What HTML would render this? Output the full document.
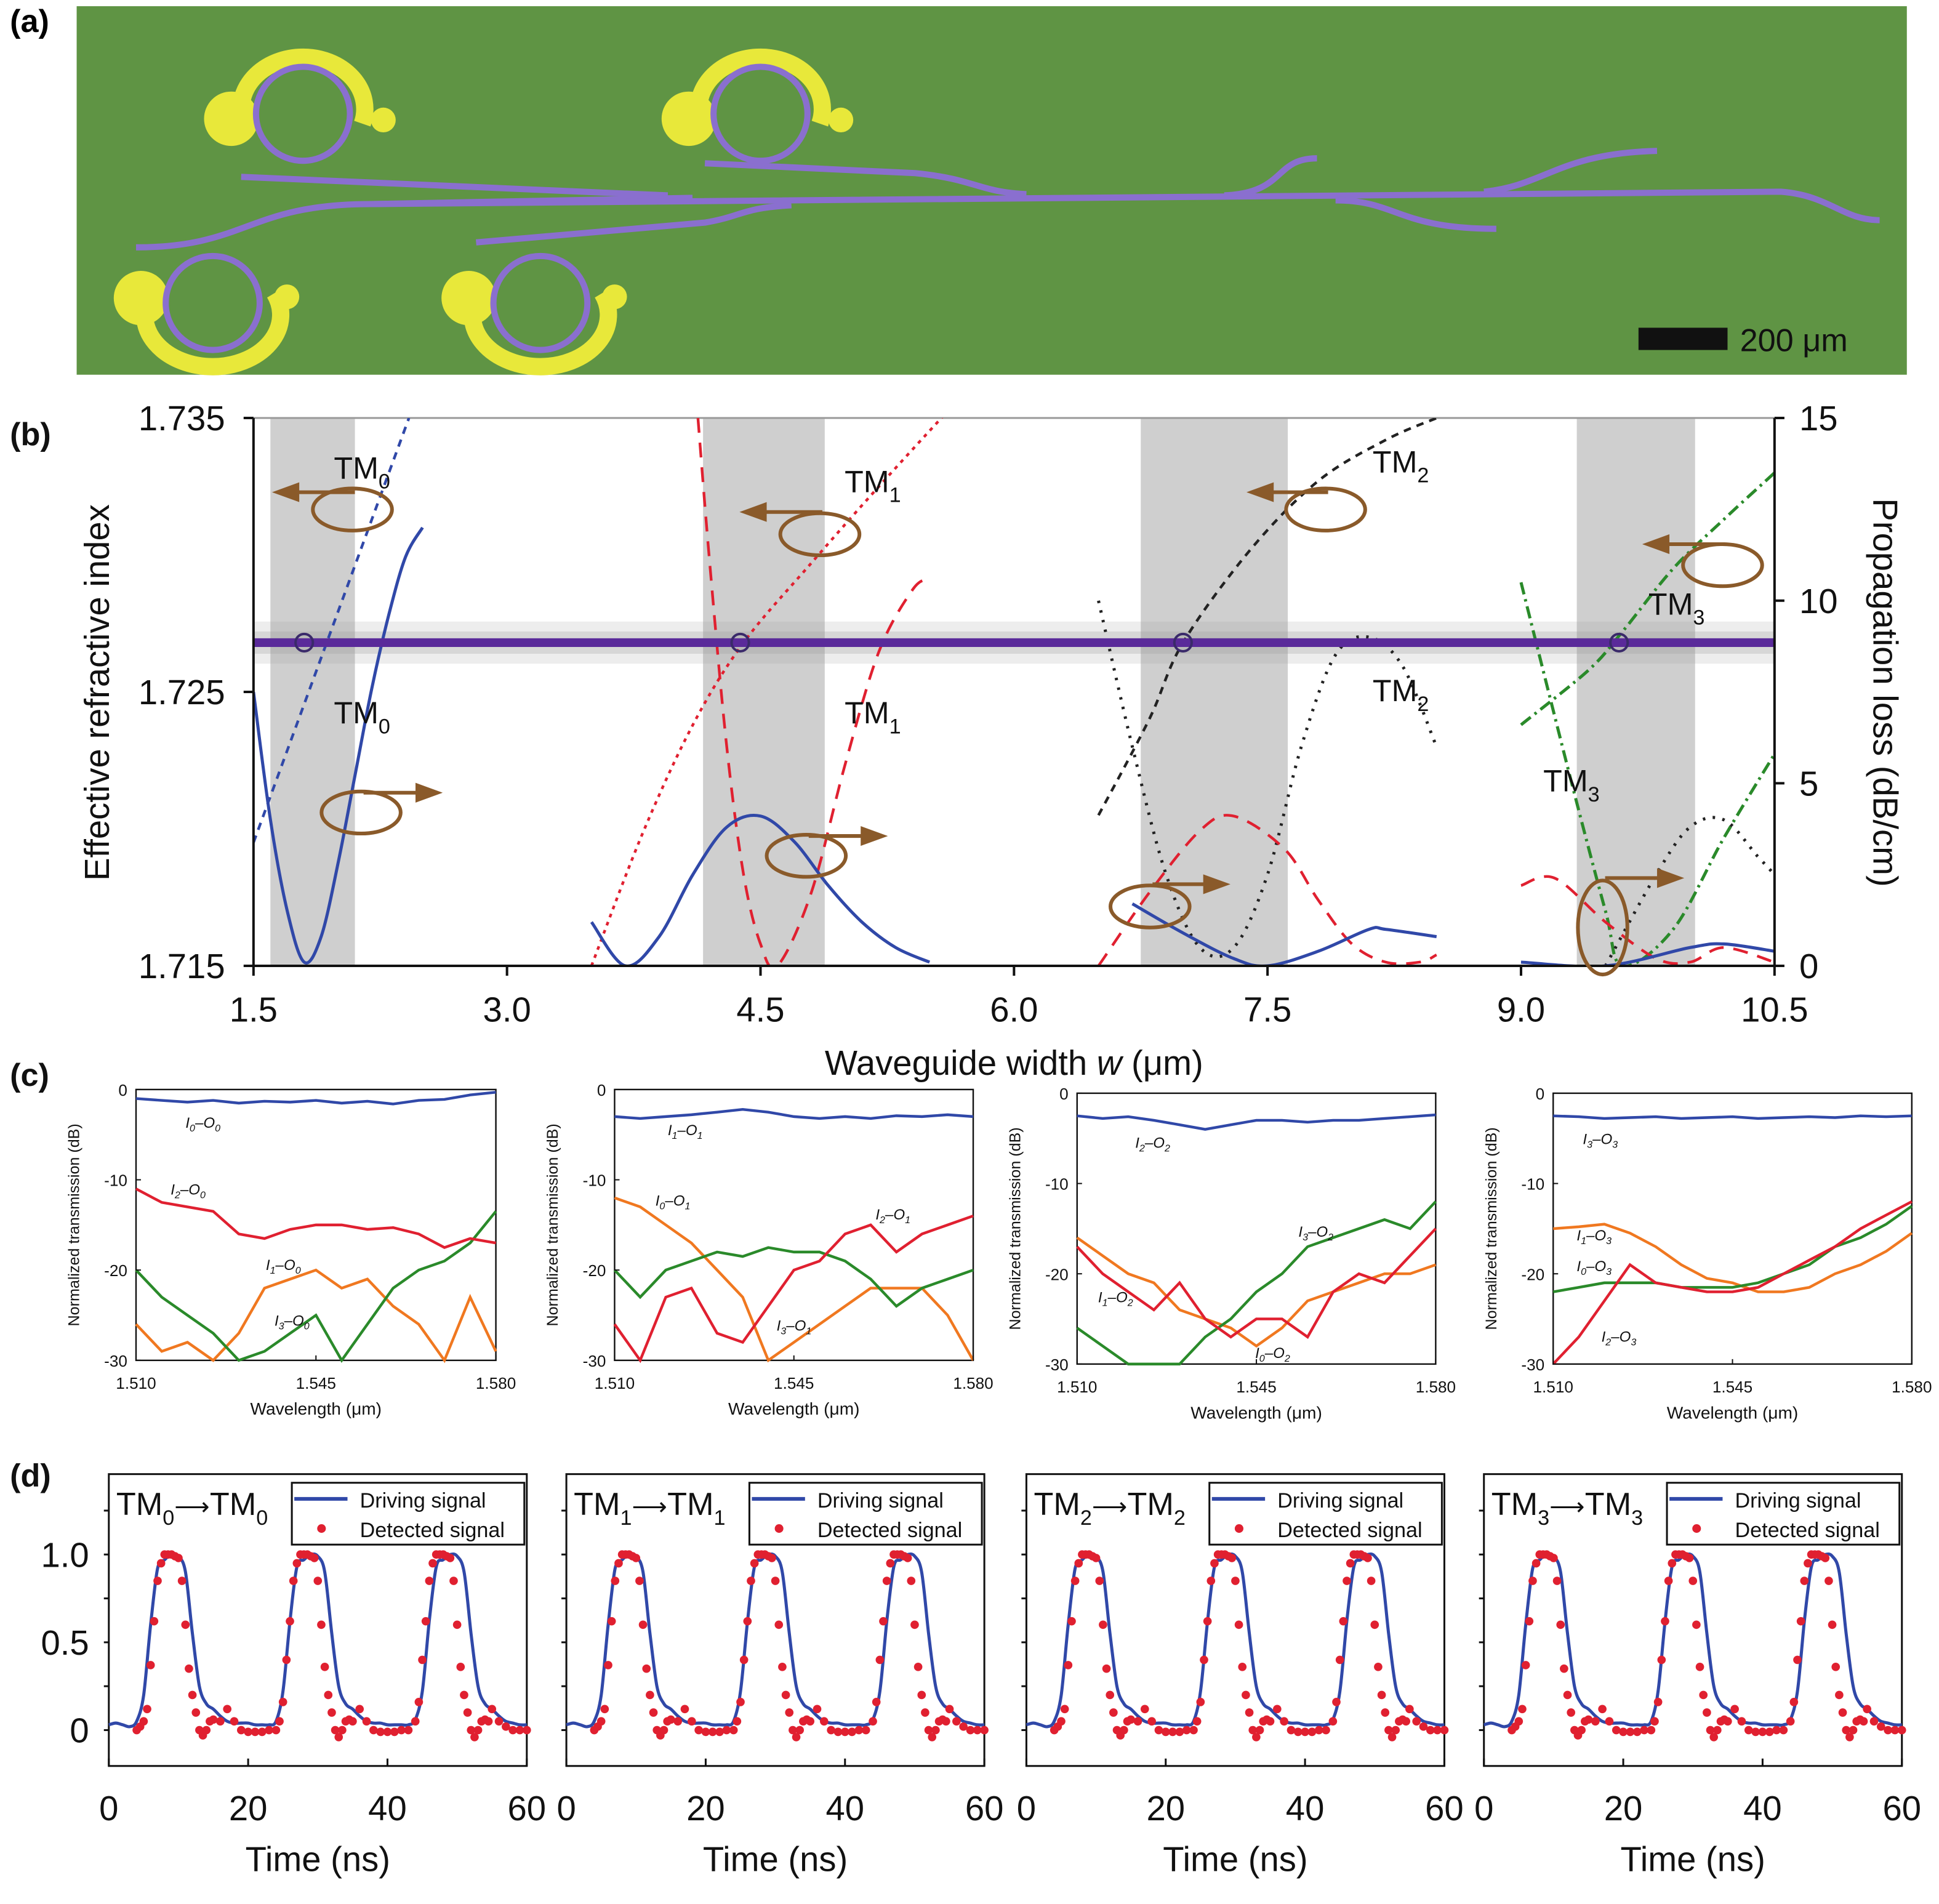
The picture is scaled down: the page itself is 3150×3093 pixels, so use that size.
<!DOCTYPE html>
<html><head><meta charset="utf-8"><style>
html,body{margin:0;padding:0;background:#fff}
svg{display:block}
text{font-family:"Liberation Sans",Arial,sans-serif}
</style></head><body>
<svg id="fig" xmlns="http://www.w3.org/2000/svg" width="3150" height="3093" viewBox="0 0 1568 1539.6">
<rect width="1568" height="1540" fill="#fff"/>
<g>
<text x="8" y="26" font-size="26" font-weight="bold">(a)</text>
<rect x="62" y="5" width="1480" height="298" fill="#5f9444"/>
<g fill="none" stroke="#8a6fcf" stroke-width="5">
<path d="M195,143 L540,158"/>
<path d="M110,200 C200,200 200,165 300,165 L560,160"/>
<path d="M300,165 L1440,155 C1480,158 1490,178 1520,178"/>
<path d="M570,132 L740,140 C790,145 790,155 830,157"/>
<path d="M385,196 L570,180 C600,175 600,168 640,166"/>
<path d="M990,158 C1040,156 1030,128 1065,128"/>
<path d="M1080,162 C1130,162 1130,185 1210,185"/>
<path d="M1200,155 C1250,150 1260,124 1340,122"/>
</g>
<g transform="translate(245,92)"><path d="M-48,8 A50,42 0 1 1 48,8" fill="none" stroke="#e8e83a" stroke-width="14"/><circle cx="-58" cy="4" r="22" fill="#e8e83a"/><circle cx="65" cy="5" r="10" fill="#e8e83a"/><circle r="38" fill="none" stroke="#8a6fcf" stroke-width="5"/></g>
<g transform="translate(615,92)"><path d="M-48,8 A50,42 0 1 1 48,8" fill="none" stroke="#e8e83a" stroke-width="14"/><circle cx="-58" cy="4" r="22" fill="#e8e83a"/><circle cx="65" cy="5" r="10" fill="#e8e83a"/><circle r="38" fill="none" stroke="#8a6fcf" stroke-width="5"/></g>
<g transform="translate(172,245) scale(1,-1)"><path d="M-50,8 A55,42 0 1 1 50,8" fill="none" stroke="#e8e83a" stroke-width="14"/><circle cx="-58" cy="4" r="22" fill="#e8e83a"/><circle cx="60" cy="5" r="10" fill="#e8e83a"/><circle r="38" fill="none" stroke="#8a6fcf" stroke-width="5"/></g>
<g transform="translate(437,245) scale(1,-1)"><path d="M-50,8 A55,42 0 1 1 50,8" fill="none" stroke="#e8e83a" stroke-width="14"/><circle cx="-58" cy="4" r="22" fill="#e8e83a"/><circle cx="60" cy="5" r="10" fill="#e8e83a"/><circle r="38" fill="none" stroke="#8a6fcf" stroke-width="5"/></g>
<rect x="1325" y="265" width="72" height="18" fill="#111"/>
<text x="1407" y="284" font-size="26" fill="#111">200 μm</text>
</g>
<g id="pb"></g>
<g id="pc"></g>
<g id="pd"></g>
</svg>
<script>
const bXTicks=[1.5,3.0,4.5,6.0,7.5,9.0,10.5];
const bLeftTicks=[1.735,1.725,1.715];
const bRightTicks=[15,10,5,0];
const bBands=[[1.6,2.1],[4.16,4.88],[6.75,7.62],[9.33,10.03]];
const bGuideIndex=1.7268;
const bMarkW=[1.8,4.38,7.0,9.58];
const tm0Index=[[1.5,1.7195],[2.42,1.735]];
const tm0Loss=[[1.5,7.5],[1.6,4],[1.7,1.5],[1.8,0.1],[1.9,0.8],[2.0,2.8],[2.1,5.2],[2.2,7.6],[2.3,9.6],[2.4,11.2],[2.5,12]];
const tm1Index=[[3.5,1.715],[3.8,1.7198],[4.1,1.7238],[4.4,1.7268],[4.8,1.7297],[5.2,1.7325],[5.6,1.7352]];
const tm1LossRed=[[4.13,15],[4.2,11],[4.3,6],[4.4,2.5],[4.5,0.6],[4.6,0],[4.8,2],[5.0,5.5],[5.2,8.6],[5.4,10.3],[5.5,10.6]];
const tm1LossBlue=[[3.5,1.2],[3.7,0],[3.9,0.8],[4.1,2.5],[4.3,3.8],[4.5,4.1],[4.7,3.4],[4.9,2.2],[5.1,1.2],[5.3,0.5],[5.5,0.1]];
const tm2Index=[[6.5,1.7205],[6.8,1.724],[7.0,1.7268],[7.4,1.7302],[7.8,1.7327],[8.2,1.7342],[8.5,1.735]];
const tm2LossBlack=[[6.5,10],[6.7,6],[6.9,2.5],[7.1,0.5],[7.3,0.5],[7.5,2.5],[7.7,6],[7.9,8.5],[8.1,9],[8.3,8.2],[8.5,6]];
const tm2LossRed=[[6.5,0],[6.8,2],[7.1,3.7],[7.3,4.1],[7.6,3.2],[7.8,1.8],[8.0,0.6],[8.2,0.1],[8.4,0.1],[8.5,0.3]];
const tm2LossBlue=[[6.7,1.7],[7.0,0.9],[7.3,0.2],[7.5,0],[7.8,0.4],[8.1,1.0],[8.2,1.0],[8.5,0.8]];
const tm3Index=[[9.0,1.7238],[9.4,1.7258],[9.6,1.7272],[9.9,1.7295],[10.2,1.7313],[10.5,1.733]];
const tm3LossGreen=[[9.0,10.5],[9.3,5],[9.5,1.5],[9.6,0],[9.9,1],[10.2,3.5],[10.5,5.8]];
const tm3LossBlack=[[9.5,0],[9.8,2.5],[10.0,3.8],[10.2,4],[10.4,3],[10.5,2.5]];
const tm3LossRed=[[9.0,2.2],[9.2,2.4],[9.5,1.2],[9.8,0.2],[10.0,0.1],[10.2,0.5],[10.5,0.1]];
const tm3LossBlue=[[9.0,0.1],[9.5,0],[10.0,0.5],[10.2,0.6],[10.5,0.4]];
const cWl=[1.510,1.515,1.520,1.525,1.530,1.535,1.540,1.545,1.550,1.555,1.560,1.565,1.570,1.575,1.580];
const cXTicks=[1.510,1.545,1.580];
const cYTicks=[0,-10,-20,-30];
const c1Blue=[-1,-1.2,-1.4,-1.2,-1.5,-1.3,-1.4,-1.2,-1.5,-1.3,-1.6,-1.2,-1.1,-0.6,-0.3];
const c1Red=[-11,-12.5,-13,-13.5,-16,-16.5,-15.5,-15,-15,-15.5,-15.3,-16,-17.5,-16.5,-17];
const c1Orange=[-26,-29,-28,-30,-27,-22,-21,-20,-22,-21,-24,-26,-30,-23,-29];
const c1Green=[-20,-23,-25,-27,-30,-29,-27,-25,-30,-26,-22,-20,-19,-17,-13.5];
const c2Blue=[-3,-3.2,-3,-2.8,-2.5,-2.2,-2.5,-3,-3.2,-3,-3.2,-2.9,-3,-2.8,-3];
const c2Orange=[-12,-13,-15,-17,-20,-23,-30,-28,-26,-24,-22,-22,-22,-25,-30];
const c2Green=[-20,-23,-20,-19,-18,-18.5,-17.5,-18,-18,-19,-21,-24,-22,-21,-20];
const c2Red=[-26,-30,-23,-22,-27,-28,-24,-20,-19,-16,-15,-18,-16,-15,-14];
const c3Blue=[-2.5,-2.8,-2.6,-3,-3.5,-4,-3.5,-3,-3,-3.2,-3,-3,-2.8,-2.6,-2.4];
const c3Red=[-17,-20,-22,-24,-21,-25,-27,-25,-25,-27,-22,-20,-21,-18,-15];
const c3Green=[-26,-28,-30,-30,-30,-27,-25,-22,-20,-17,-16,-15,-14,-15,-12];
const c3Orange=[-16,-18,-20,-21,-24,-25,-26,-28,-26,-23,-22,-21,-20,-20,-19];
const c4Blue=[-2.5,-2.6,-2.8,-2.7,-2.6,-2.8,-2.7,-2.6,-2.8,-2.7,-2.6,-2.7,-2.5,-2.6,-2.5];
const c4Orange=[-15,-14.8,-14.5,-15.5,-17,-19,-20.5,-21,-22,-22,-21.5,-20,-19,-17.5,-15.5];
const c4Green=[-22,-21.5,-21,-21,-21,-21.5,-21.5,-21.5,-21,-20,-19,-17,-16,-14.5,-12.5];
const c4Red=[-30,-27,-23,-19,-21,-21.5,-22,-22,-21.5,-20,-18.5,-17,-15,-13.5,-12];
const dTime=[0,1,2,3,4,5,6,7,8,9,10,11,12,13,14,15,16,17,18,19,20,21,22,23,24,25,26,27,28,29,30,31,32,33,34,35,36,37,38,39,40,41,42,43,44,45,46,47,48,49,50,51,52,53,54,55,56,57,58,59,60];
const dDriving=[0.03,0.04,0.03,0.02,0.05,0.2,0.6,0.92,0.97,1.0,0.99,0.9,0.55,0.25,0.15,0.12,0.08,0.05,0.04,0.04,0.04,0.03,0.03,0.03,0.05,0.22,0.62,0.93,0.97,1.0,0.99,0.9,0.55,0.25,0.15,0.12,0.08,0.05,0.04,0.04,0.03,0.03,0.03,0.03,0.06,0.22,0.62,0.93,0.97,1.0,0.99,0.9,0.55,0.25,0.15,0.12,0.08,0.05,0.04,0.03,0.03];
const dDetT=[4,4.5,5,5.5,6,6.5,7,7.5,8,8.5,9,9.5,10,10.5,11,11.5,12,12.5,13,13.5,14,14.5,15,16,17,18,19,20,21,22,23,24,24.5,25,25.5,26,26.5,27,27.5,28,28.5,29,29.5,30,30.5,31,31.5,32,32.5,33,33.5,34,34.5,35,36,37,38,39,40,41,42,43,44,44.5,45,45.5,46,46.5,47,47.5,48,48.5,49,49.5,50,50.5,51,51.5,52,52.5,53,53.5,54,54.5,55,56,57,58,59,60];
const dDetected=[0,0.02,0.05,0.12,0.37,0.62,0.85,0.95,1.0,1.0,1.0,0.99,0.98,0.85,0.6,0.35,0.2,0.1,0.0,-0.03,0.0,0.05,0.06,0.05,0.12,0.05,0.0,-0.01,-0.01,-0.01,0.0,0.0,0.05,0.16,0.4,0.62,0.85,0.95,1.0,1.0,1.0,0.99,0.98,0.85,0.6,0.36,0.2,0.1,0.0,-0.04,0.0,0.05,0.06,0.05,0.12,0.05,0.0,-0.01,-0.01,-0.01,0.0,0.0,0.05,0.16,0.4,0.62,0.85,0.95,1.0,1.0,1.0,0.99,0.98,0.85,0.6,0.36,0.2,0.1,0.0,-0.04,0.0,0.05,0.06,0.05,0.12,0.05,0.02,0.0,0.0,0.0];
const dXTicks=[0,20,40,60];
const dYTicks=[0,0.5,1.0];
const dTitles=["0","1","2","3"];

const NS="http://www.w3.org/2000/svg";
function mk(parent,tag,attrs,name,inter){
  const el=document.createElementNS(NS,tag);
  for(const k in attrs) el.setAttribute(k,attrs[k]);
  
  
  parent.appendChild(el);return el;
}
function txt(parent,x,y,s,size,name,extra){
  const a=Object.assign({x:x,y:y,'font-size':size,fill:'#111'},extra||{});
  const t=mk(parent,'text',a,name,false);t.textContent=s;return t;
}
function pathOf(pts){return pts.map((p,i)=>(i?'L':'M')+p[0].toFixed(1)+','+p[1].toFixed(1)).join(' ');}
function smoothPath(pts){
  if(pts.length<3) return pathOf(pts);
  let d='M'+pts[0][0].toFixed(1)+','+pts[0][1].toFixed(1);
  for(let i=0;i<pts.length-1;i++){
    const p0=pts[Math.max(0,i-1)],p1=pts[i],p2=pts[i+1],p3=pts[Math.min(pts.length-1,i+2)];
    const c1=[p1[0]+(p2[0]-p0[0])/6,p1[1]+(p2[1]-p0[1])/6];
    const c2=[p2[0]-(p3[0]-p1[0])/6,p2[1]-(p3[1]-p1[1])/6];
    d+=' C'+c1[0].toFixed(1)+','+c1[1].toFixed(1)+' '+c2[0].toFixed(1)+','+c2[1].toFixed(1)+' '+p2[0].toFixed(1)+','+p2[1].toFixed(1);
  }
  return d;
}

(function(){
  const g=document.getElementById('pb');
  const X0=205,X1=1435,Y0=338,Y1=781;
  const sx=w=>X0+(w-1.5)/(10.5-1.5)*(X1-X0);
  const syL=v=>Y1-(v-1.715)/(0.02)*(Y1-Y0);
  const syR=v=>Y1-v/15*(Y1-Y0);
  txt(g,8,360,'(b)',26,'label-b',{'font-weight':'bold'});
  bBands.forEach(b=>{mk(g,'rect',{x:sx(b[0]),y:Y0,width:sx(b[1])-sx(b[0]),height:Y1-Y0,fill:'#cfcfcf'},'gray-band',false);});
  mk(g,'line',{x1:X0,y1:Y0,x2:X1,y2:Y0,stroke:'#999','stroke-width':1.5},'top-frame',false);
  mk(g,'line',{x1:X0,y1:syL(bGuideIndex),x2:X1,y2:syL(bGuideIndex),stroke:'#999','stroke-width':34,'stroke-opacity':0.18},'guide-glow',false);
  mk(g,'line',{x1:X0,y1:syL(bGuideIndex),x2:X1,y2:syL(bGuideIndex),stroke:'#999','stroke-width':18,'stroke-opacity':0.25},'guide-glow-inner',false);
  const clip=mk(g,'clipPath',{id:'bclip'},'plot-clip',false);
  mk(clip,'rect',{x:X0,y:Y0,width:X1-X0,height:Y1-Y0},'plot-clip-rect',false);
  const series=[
    [tm0Index,'L','#3048a8','6 5',2.2,'tm0-index'],[tm0Loss,'R','#3048a8','',2.5,'tm0-loss'],
    [tm1Index,'L','#e02030','3 4',2.2,'tm1-index'],[tm1LossRed,'R','#e02030','12 8',2.2,'tm1-loss-red'],[tm1LossBlue,'R','#3048a8','',2.5,'tm1-loss'],
    [tm2Index,'L','#222','6 5',2.2,'tm2-index'],[tm2LossBlack,'R','#222','2 6',2.5,'tm2-loss-dotted'],[tm2LossRed,'R','#e02030','12 8',2.2,'tm2-loss-red'],[tm2LossBlue,'R','#3048a8','',2.5,'tm2-loss'],
    [tm3Index,'L','#2a8a2a','10 4 2 4',2.5,'tm3-index'],[tm3LossGreen,'R','#2a8a2a','10 4 2 4',2.5,'tm3-loss-green'],[tm3LossBlack,'R','#222','2 6',2.5,'tm3-loss-dotted'],[tm3LossRed,'R','#e02030','12 8',2.2,'tm3-loss-red'],[tm3LossBlue,'R','#3048a8','',2.5,'tm3-loss']
  ];
  series.forEach(s=>{
    const f=s[1]==='L'?syL:syR;
    const pts=s[0].map(p=>[sx(p[0]),f(p[1])]);
    const a={d:smoothPath(pts),fill:'none',stroke:s[2],'stroke-width':s[4],'clip-path':'url(#bclip)'};
    if(s[3]) a['stroke-dasharray']=s[3];
    mk(g,'path',a,s[5],false);
  });
  mk(g,'line',{x1:X0,y1:syL(bGuideIndex),x2:X1,y2:syL(bGuideIndex),stroke:'#5a2a9a','stroke-width':7},'waveguide-index-line',false);
  bMarkW.forEach(w=>{mk(g,'circle',{cx:sx(w),cy:syL(bGuideIndex),r:7,fill:'none',stroke:'#3a2a6a','stroke-width':2},'crossing-marker',false);});
  mk(g,'line',{x1:X0,y1:Y0,x2:X0,y2:Y1,stroke:'#111','stroke-width':2},'left-axis',false);
  mk(g,'line',{x1:X1,y1:Y0,x2:X1,y2:Y1,stroke:'#111','stroke-width':2},'right-axis',false);
  mk(g,'line',{x1:X0,y1:Y1,x2:X1,y2:Y1,stroke:'#111','stroke-width':2},'x-axis',false);
  bXTicks.forEach(v=>{mk(g,'line',{x1:sx(v),y1:Y1,x2:sx(v),y2:Y1+8,stroke:'#111','stroke-width':2},'x-tick',false);
    txt(g,sx(v),826,v.toFixed(1),28,'x-tick-label',{'text-anchor':'middle'});});
  bLeftTicks.forEach(v=>{mk(g,'line',{x1:X0-8,y1:syL(v),x2:X0,y2:syL(v),stroke:'#111','stroke-width':2},'left-tick',false);
    txt(g,182,syL(v)+10,v.toFixed(3),28,'left-tick-label',{'text-anchor':'end'});});
  bRightTicks.forEach(v=>{mk(g,'line',{x1:X1,y1:syR(v),x2:X1+8,y2:syR(v),stroke:'#111','stroke-width':2},'right-tick',false);
    txt(g,1455,syR(v)+10,String(v),28,'right-tick-label');});
  txt(g,820,869,'',28,'x-axis-title',{'text-anchor':'middle'}).innerHTML='Waveguide width <tspan font-style="italic">w</tspan> (μm)';
  txt(g,88,560,'Effective refractive index',28,'left-axis-title',{'text-anchor':'middle',transform:'rotate(-90 88 560)'});
  txt(g,1515,560,'Propagation loss (dB/cm)',28,'right-axis-title',{'text-anchor':'middle',transform:'rotate(90 1515 560)'});
  [['0',270,387],['1',683,398],['2',1110,382],['3',1333,497],['0',270,585],['1',683,585],['2',1110,567],['3',1248,640]].forEach(l=>{
    const t=txt(g,l[1],l[2],'',25,'mode-label');t.innerHTML='TM<tspan font-size="17" dy="8">'+l[0]+'</tspan>';});
  const br='#8a5a2a';
  [[285,412,32,17,220,398],[292,657,32,17,358,641],[663,432,32,17,598,414],[652,692,32,17,718,676],[1072,412,32,17,1008,398],[930,733,32,17,995,715],[1393,457,32,17,1328,440],[1296,750,20,38,1362,710]].forEach(e=>{
    mk(g,'ellipse',{cx:e[0],cy:e[1],rx:e[2],ry:e[3],fill:'none',stroke:br,'stroke-width':3},'axis-indicator-ellipse',false);
    const startX=e[0]+2;
    mk(g,'line',{x1:startX,y1:e[5],x2:e[4]+(e[4]<e[0]?14:-14),y2:e[5],stroke:br,'stroke-width':3},'axis-indicator-arrow',false);
    const d=e[4]<e[0]?1:-1;
    mk(g,'polygon',{points:e[4]+','+e[5]+' '+(e[4]+22*d)+','+(e[5]-8)+' '+(e[4]+22*d)+','+(e[5]+8),fill:br},'arrow-head',false);
  });
})();

(function(){
  const g=document.getElementById('pc');
  txt(g,8,878,'(c)',26,'label-c',{'font-weight':'bold'});
  const panels=[
    {x0:110,x1:401,y0:881,y1:1100,data:[[c1Orange,'#f07820'],[c1Green,'#2a8a2a'],[c1Red,'#e02030'],[c1Blue,'#3048a8']],labels:[['I','0','O','0',150,912],['I','2','O','0',138,966],['I','1','O','0',215,1027],['I','3','O','0',222,1072]]},
    {x0:497,x1:787,y0:881,y1:1100,data:[[c2Orange,'#f07820'],[c2Green,'#2a8a2a'],[c2Red,'#e02030'],[c2Blue,'#3048a8']],labels:[['I','1','O','1',540,918],['I','0','O','1',530,975],['I','2','O','1',708,986],['I','3','O','1',628,1076]]},
    {x0:871,x1:1161,y0:884,y1:1103,data:[[c3Orange,'#f07820'],[c3Green,'#2a8a2a'],[c3Red,'#e02030'],[c3Blue,'#3048a8']],labels:[['I','2','O','2',918,928],['I','3','O','2',1050,1000],['I','1','O','2',888,1053],['I','0','O','2',1015,1098]]},
    {x0:1256,x1:1546,y0:884,y1:1103,data:[[c4Orange,'#f07820'],[c4Green,'#2a8a2a'],[c4Red,'#e02030'],[c4Blue,'#3048a8']],labels:[['I','3','O','3',1280,925],['I','1','O','3',1275,1003],['I','0','O','3',1275,1028],['I','2','O','3',1295,1085]]}
  ];
  panels.forEach((p,pi)=>{
    const sx=w=>p.x0+(w-1.51)/0.07*(p.x1-p.x0);
    const sy=v=>p.y0+(-v)/30*(p.y1-p.y0);
    const sub=mk(g,'g',{},'transmission-plot-'+(pi+1),false);
    mk(sub,'rect',{x:p.x0,y:p.y0,width:p.x1-p.x0,height:p.y1-p.y0,fill:'none',stroke:'#111','stroke-width':1.2},'plot-frame',false);
    p.data.forEach(d=>{
      const pts=cWl.map((w,i)=>[sx(w),sy(d[0][i])]);
      mk(sub,'path',{d:pathOf(pts),fill:'none',stroke:d[1],'stroke-width':2.2},'transmission-curve',false);
    });
    cXTicks.forEach(v=>{mk(sub,'line',{x1:sx(v),y1:p.y1,x2:sx(v),y2:p.y1-4,stroke:'#111'},'x-tick',false);
      txt(sub,sx(v),p.y1+23,v.toFixed(3),13,'x-tick-label',{'text-anchor':'middle'});});
    cYTicks.forEach(v=>{mk(sub,'line',{x1:p.x0,y1:sy(v),x2:p.x0+4,y2:sy(v),stroke:'#111'},'y-tick',false);
      txt(sub,p.x0-7,sy(v)+5,String(v),13,'y-tick-label',{'text-anchor':'end'});});
    txt(sub,(p.x0+p.x1)/2,p.y1+44,'Wavelength (μm)',14,'x-axis-title',{'text-anchor':'middle'});
    const yx=p.x0-46,yy=(p.y0+p.y1)/2;
    txt(sub,yx,yy,'Normalized transmission (dB)',12.5,'y-axis-title',{'text-anchor':'middle',transform:'rotate(-90 '+yx+' '+yy+')'});
    p.labels.forEach(l=>{const t=txt(sub,l[4],l[5],'',12,'curve-label',{'font-style':'italic'});
      t.innerHTML=l[0]+'<tspan font-size="8" dy="3">'+l[1]+'</tspan><tspan dy="-3">–'+l[2]+'</tspan><tspan font-size="8" dy="3">'+l[3]+'</tspan>';});
  });
})();

(function(){
  const g=document.getElementById('pd');
  txt(g,8,1202,'(d)',26,'label-d',{'font-weight':'bold'});
  const xs=[88,458,830,1200];
  const W=338,Y0=1192,Y1=1428;
  xs.forEach((x0,pi)=>{
    const sx=t=>x0+t/60*W;
    const sy=v=>1399-v*(1399-1257);
    const sub=mk(g,'g',{},'pulse-plot-'+(pi+1),false);
    mk(sub,'rect',{x:x0,y:Y0,width:W,height:Y1-Y0,fill:'none',stroke:'#111','stroke-width':1.5},'plot-frame',false);
    mk(sub,'path',{d:smoothPath(dTime.map((t,i)=>[sx(t),sy(dDriving[i])])),fill:'none',stroke:'#3048a8','stroke-width':2.5},'driving-signal',false);
    dDetT.forEach((t,i)=>{mk(sub,'circle',{cx:sx(t),cy:sy(dDetected[i]),r:3.4,fill:'#e02030'},'detected-point',false);});
    dXTicks.forEach(v=>{mk(sub,'line',{x1:sx(v),y1:Y1,x2:sx(v),y2:Y1-6,stroke:'#111','stroke-width':1.5},'x-tick',false);
      txt(sub,sx(v),1472,String(v),28,'x-tick-label',{'text-anchor':'middle'});});
    [0,0.25,0.5,0.75,1.0,1.25].forEach(v=>{mk(sub,'line',{x1:x0-4,y1:sy(v),x2:x0,y2:sy(v),stroke:'#111','stroke-width':1.5},'y-tick',false);});
    if(pi===0) dYTicks.forEach(v=>{txt(sub,72,sy(v)+10,v===0?'0':v.toFixed(1),28,'y-tick-label',{'text-anchor':'end'});});
    txt(sub,x0+W/2,1513,'Time (ns)',28,'x-axis-title',{'text-anchor':'middle'});
    const tt=txt(sub,x0+6,1225,'',26,'mode-title');
    tt.innerHTML='TM<tspan font-size="17" dy="8">'+dTitles[pi]+'</tspan><tspan dy="-8" font-size="20">⟶</tspan>TM<tspan font-size="17" dy="8">'+dTitles[pi]+'</tspan>';
    const lx=x0+148;
    mk(sub,'rect',{x:lx,y:1199,width:188,height:50,fill:'#fff',stroke:'#111','stroke-width':1.5},'legend-box',false);
    mk(sub,'line',{x1:lx+2,y1:1212,x2:lx+45,y2:1212,stroke:'#3048a8','stroke-width':3},'legend-driving-swatch',false);
    mk(sub,'circle',{cx:lx+24,cy:1236,r:3.5,fill:'#e02030'},'legend-detected-swatch',false);
    txt(sub,lx+55,1219,'Driving signal',17,'legend-driving-label');
    txt(sub,lx+55,1243,'Detected signal',17,'legend-detected-label');
  });
})();
</script>
</body></html>
